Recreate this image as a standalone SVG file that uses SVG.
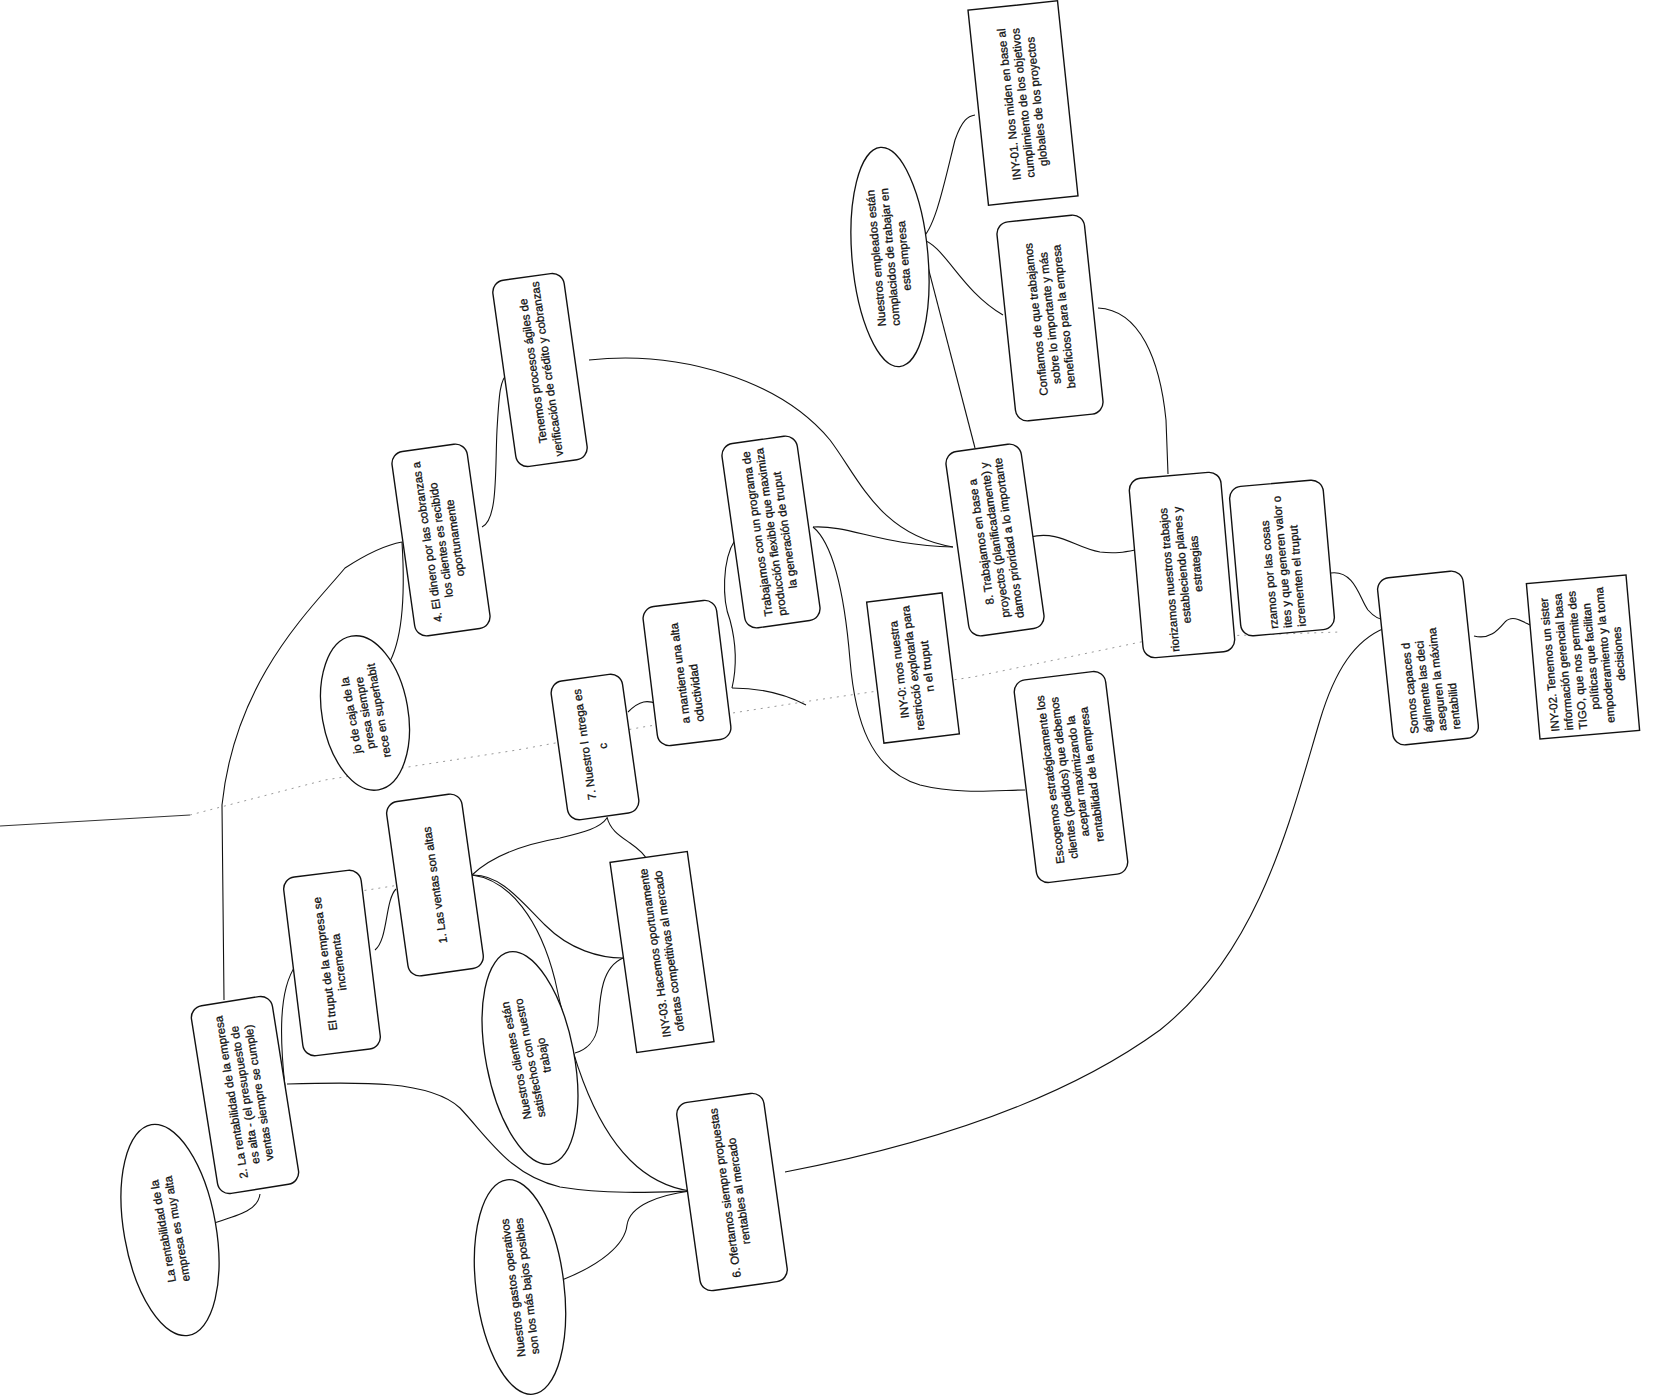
<svg xmlns="http://www.w3.org/2000/svg" width="1663" height="1400" viewBox="0 0 1663 1400">
<style>
.bx{fill:#fff;stroke:#111;stroke-width:1.4}
.el{fill:#fff;stroke:#111;stroke-width:1.3}
.t{font-family:"Liberation Sans",Arial,sans-serif;font-size:11.5px;fill:#111;stroke:#111;stroke-width:0.3;text-anchor:middle}
.s{text-anchor:start}
.c{fill:none;stroke:#111;stroke-width:1.1}
.fold{fill:none;stroke:#9a9a9a;stroke-width:1;stroke-dasharray:2 5}
</style>
<rect width="1663" height="1400" fill="#fff"/>
<g id="fold">
<path d="M0,826 L190,815" fill="none" stroke="#333" stroke-width="1.2"/>
<path class="fold" d="M190,815 L325,780 L517,750 L643,727 L803,702 L973,677 L1160,638 L1340,632"/>
<path class="fold" d="M323,897 L450,877"/>
</g>
<g id="connectors">
<path class="c" d="M214,1223 C240,1215 258,1210 260,1194"/>
<path class="c" d="M224,1000 L222,805 C235,680 310,610 345,568 C365,555 385,545 402,542"/>
<path class="c" d="M402,542 C405,590 403,640 388,665"/>
<path class="c" d="M285,1087 C280,1040 278,990 296,965"/>
<path class="c" d="M287,1084 C360,1082 430,1080 460,1108 C490,1140 510,1175 560,1187 C610,1195 660,1192 690,1191"/>
<path class="c" d="M375,950 C388,940 385,900 396,889"/>
<path class="c" d="M472,875 C500,874 520,900 545,925 C570,950 600,958 623,958"/>
<path class="c" d="M472,875 C510,880 540,920 555,980 C570,1050 590,1120 630,1160 C650,1180 670,1188 690,1191"/>
<path class="c" d="M472,875 C490,858 520,845 560,838 C585,832 600,828 607,818"/>
<path class="c" d="M623,958 C600,968 600,1000 598,1025 C596,1042 585,1050 575,1053"/>
<path class="c" d="M562,1280 C600,1265 625,1245 627,1225 C630,1205 660,1195 690,1191"/>
<path class="c" d="M785,1172 C900,1150 1050,1110 1160,1030 C1260,950 1290,820 1320,720 C1335,670 1355,640 1385,628"/>
<path class="c" d="M482,527 C498,520 495,470 497,430 C499,395 500,378 508,374"/>
<path class="c" d="M589,360 C680,350 780,380 830,440 C860,480 880,535 953,547"/>
<path class="c" d="M813,527 C850,525 880,545 953,547"/>
<path class="c" d="M735,540 C722,560 722,600 730,620 C738,650 735,675 732,688"/>
<path class="c" d="M732,688 C760,688 785,694 806,705"/>
<path class="c" d="M813,527 C835,545 845,600 850,660 C855,720 870,770 920,785 C960,795 1000,790 1025,790"/>
<path class="c" d="M628,712 C640,700 648,700 657,704"/>
<path class="c" d="M607,817 C610,830 620,836 630,843 C640,850 645,855 647,860"/>
<path class="c" d="M975,448 L921,240"/>
<path class="c" d="M921,239 C935,230 945,180 955,140 C962,120 968,116 975,115"/>
<path class="c" d="M921,239 C945,245 960,290 1003,315"/>
<path class="c" d="M1098,308 C1140,310 1160,360 1166,420 L1168,474"/>
<path class="c" d="M1030,537 C1060,530 1075,548 1100,552 C1115,554 1125,552 1135,550"/>
<path class="c" d="M1331,573 C1355,570 1360,600 1368,610 C1375,618 1380,620 1386,620"/>
<path class="c" d="M1474,636 C1490,640 1498,630 1505,622 C1512,615 1520,620 1530,625"/>
</g>
<g id="n-e1" transform="translate(170,1230) rotate(-100)"><ellipse class="el" rx="107" ry="46"/><text class="t" y="-3">La rentabilidad de la</text><text class="t" y="11">empresa es muy alta</text></g>
<g id="n-2" transform="translate(245,1095) rotate(-99)"><rect class="bx" x="-95" y="-41" width="190" height="82" rx="12"/><text class="t" y="-10">2. La rentabilidad de la empresa</text><text class="t" y="4">es alta - (el presupuesto de</text><text class="t" y="18">ventas siempre se cumple)</text></g>
<g id="n-truput" transform="translate(332,963) rotate(-97)"><rect class="bx" x="-90" y="-39" width="180" height="78" rx="12"/><text class="t" y="-3">El truput de la empresa se</text><text class="t" y="11">incrementa</text></g>
<g id="n-1" transform="translate(435,885) rotate(-98)"><rect class="bx" x="-88" y="-38" width="176" height="76" rx="12"/><text class="t" y="4">1. Las ventas son altas</text></g>
<g id="n-iny03" transform="translate(662,952) rotate(-98)"><rect class="bx" x="-96" y="-39" width="192" height="78"/><text class="t" y="-3">INY-03. Hacemos oportunamente</text><text class="t" y="11">ofertas competitivas al mercado</text></g>
<g id="n-clientes" transform="translate(530,1058) rotate(-101)"><ellipse class="el" rx="108" ry="44"/><text class="t" y="-10">Nuestros clientes están</text><text class="t" y="4">satisfechos con nuestro</text><text class="t" y="18">trabajo</text></g>
<g id="n-6" transform="translate(732,1192) rotate(-98)"><rect class="bx" x="-95" y="-44" width="190" height="88" rx="12"/><text class="t" y="-3">6. Ofertamos siempre propuestas</text><text class="t" y="11">rentables al mercado</text></g>
<g id="n-gastos" transform="translate(520,1287) rotate(-97)"><ellipse class="el" rx="108" ry="44"/><text class="t" y="-3">Nuestros gastos operativos</text><text class="t" y="11">son los más bajos posibles</text></g>
<g id="n-flujo" transform="translate(365,713) rotate(-100)"><ellipse class="el" rx="78" ry="43"/><text class="t" y="-10">jo de caja de la</text><text class="t" y="4">presa siempre</text><text class="t" y="18">rece en superhabit</text></g>
<g id="n-4" transform="translate(441,540) rotate(-98)"><rect class="bx" x="-93" y="-38" width="186" height="76" rx="12"/><text class="t" y="-10">4. El dinero por las cobranzas a</text><text class="t" y="4">los clientes es recibido</text><text class="t" y="18">oportunamente</text></g>
<g id="n-procesos" transform="translate(540,370) rotate(-98)"><rect class="bx" x="-94" y="-36" width="188" height="72" rx="12"/><text class="t" y="-3">Tenemos procesos ágiles de</text><text class="t" y="11">verificación de crédito y cobranzas</text></g>
<g id="n-7" transform="translate(595,747) rotate(-98)"><rect class="bx" x="-70" y="-36" width="140" height="72" rx="12"/><text class="t" x="7" y="-6" style="text-anchor:end">7. Nuestro l</text><text class="t s" x="12" y="-6">ntrega es</text><text class="t" y="12">c</text></g>
<g id="n-productividad" transform="translate(687,673) rotate(-97)"><rect class="bx" x="-70" y="-37" width="140" height="74" rx="12"/><text class="t s" x="-50" y="-3">a mantiene una alta</text><text class="t s" x="-50" y="11">oductividad</text></g>
<g id="n-programa" transform="translate(771,532) rotate(-98)"><rect class="bx" x="-93" y="-38" width="186" height="76" rx="12"/><text class="t" y="-10">Trabajamos con un programa de</text><text class="t" y="4">producción flexible que maximiza</text><text class="t" y="18">la generación de truput</text></g>
<g id="n-iny0" transform="translate(913,668) rotate(-97)"><rect class="bx" x="-71" y="-38" width="142" height="76"/><text class="t" y="-10">INY-0: mos nuestra</text><text class="t" y="4">restricció explotarla para</text><text class="t" y="18">n el truput</text></g>
<g id="n-8" transform="translate(995,540) rotate(-98)"><rect class="bx" x="-93" y="-38" width="186" height="76" rx="12"/><text class="t" y="-10">8. Trabajamos en base a</text><text class="t" y="4">proyectos (planificadamente) y</text><text class="t" y="18">damos prioridad a lo importante</text></g>
<g id="n-empleados" transform="translate(890,257) rotate(-95)"><ellipse class="el" rx="110" ry="38"/><text class="t" y="-10">Nuestros empleados están</text><text class="t" y="4">complacidos de trabajar en</text><text class="t" y="18">esta empresa</text></g>
<g id="n-iny01" transform="translate(1023,103) rotate(-96)"><rect class="bx" x="-98" y="-45" width="196" height="90"/><text class="t" y="-10">INY-01. Nos miden en base al</text><text class="t" y="4">cumplimiento de los objetivos</text><text class="t" y="18">globales de los proyectos</text></g>
<g id="n-confiamos" transform="translate(1050,318) rotate(-96)"><rect class="bx" x="-100" y="-44" width="200" height="88" rx="12"/><text class="t" y="-10">Confiamos de que trabajamos</text><text class="t" y="4">sobre lo importante y más</text><text class="t" y="18">beneficioso para la empresa</text></g>
<g id="n-priorizamos" transform="translate(1182,565) rotate(-95)"><rect class="bx" x="-90" y="-46" width="180" height="92" rx="12"/><text class="t s" x="-86" y="-10">riorizamos nuestros trabajos</text><text class="t" y="4">estableciendo planes y</text><text class="t" y="18">estrategias</text></g>
<g id="n-cosas" transform="translate(1282,558) rotate(-95)"><rect class="bx" x="-75" y="-47" width="150" height="94" rx="12"/><text class="t s" x="-70" y="-10">rzamos por las cosas</text><text class="t s" x="-70" y="4">ites y que generen valor o</text><text class="t s" x="-70" y="18">icrementen el truput</text></g>
<g id="n-escogemos" transform="translate(1071,777) rotate(-97)"><rect class="bx" x="-102" y="-46" width="204" height="92" rx="12"/><text class="t" y="-17">Escogemos estratégicamente los</text><text class="t" y="-3">clientes (pedidos) que debemos</text><text class="t" y="11">aceptar maximizando la</text><text class="t" y="25">rentabilidad de la empresa</text></g>
<g id="n-somos" transform="translate(1428,658) rotate(-96)"><rect class="bx" x="-84" y="-43" width="168" height="86" rx="12"/><text class="t s" x="-74" y="-17">Somos capaces d</text><text class="t s" x="-74" y="-3">ágilmente las deci</text><text class="t s" x="-74" y="11">aseguren la máxima</text><text class="t s" x="-74" y="25">rentabilid</text></g>
<g id="n-iny02" transform="translate(1583,657) rotate(-95)"><rect class="bx" x="-78" y="-50" width="156" height="100"/><text class="t s" x="-72" y="-30">INY-02. Tenemos un sister</text><text class="t s" x="-72" y="-16">información gerencial basa</text><text class="t s" x="-72" y="-2">TIGO, que nos permite des</text><text class="t" y="12">políticas que facilitan</text><text class="t" y="26">empoderamiento y la toma</text><text class="t" y="40">decisiones</text></g>
</svg>
